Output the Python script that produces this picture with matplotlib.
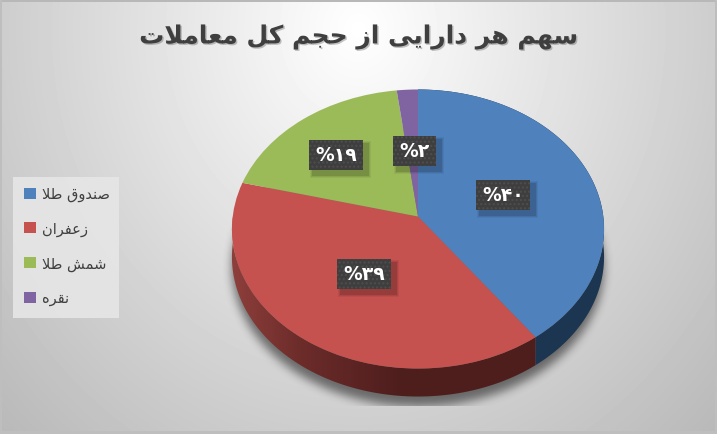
#!/usr/bin/env python
import numpy as np
import matplotlib as mpl
mpl.use('Agg')
import matplotlib.pyplot as plt
import matplotlib.patheffects as pe
from matplotlib.patches import Patch, Polygon, Rectangle
from matplotlib.transforms import Transform

# data
title = 'سهم هر دارایی از حجم کل معاملات'
categories = ['صندوق طلا', 'زعفران', 'شمش طلا', 'نقره']
shares = [40, 39, 19, 2]
share_labels = ['۴۰', '۳۹', '۱۹', '۲']
colors = ['#4f81bd', '#c5524f', '#9bbb59', '#8064a2']

W, H = 717, 435
CX, CY = 418, 217.5    # pie apex in pixels
A, B, K = 185.3, 138.4, 0.0896   # tilt of the disc
DEPTH = 28

# matplotlib does no arabic shaping, so pick presentation forms by hand
FORMS = {
    'ا': 'ﺍﺎ', 'د': 'ﺩﺪ', 'ر': 'ﺭﺮ', 'ز': 'ﺯﺰ', 'و': 'ﻭﻮ',
    'ت': 'ﺕﺖﺗﺘ', 'ج': 'ﺝﺞﺟﺠ', 'ح': 'ﺡﺢﺣﺤ', 'س': 'ﺱﺲﺳﺴ', 'ش': 'ﺵﺶﺷﺸ',
    'ص': 'ﺹﺺﺻﺼ', 'ط': 'ﻁﻂﻃﻄ', 'ع': 'ﻉﻊﻋﻌ', 'ف': 'ﻑﻒﻓﻔ', 'ق': 'ﻕﻖﻗﻘ',
    'ک': 'ﮎﮏﮐﮑ', 'ل': 'ﻝﻞﻟﻠ', 'م': 'ﻡﻢﻣﻤ', 'ن': 'ﻥﻦﻧﻨ', 'ه': 'ﻩﻪﻫﻬ',
    'ی': 'ﯼﯽﯾﯿ',
}

def shape(text):
    out = []
    for word in text.split(' '):
        s = ''
        i = 0
        joined = False
        while i < len(word):
            c = word[i]
            if c == 'ل' and word[i + 1:i + 2] == 'ا':
                s += 'ﻼ' if joined else 'ﻻ'
                joined = False
                i += 2
                continue
            f = FORMS[c]
            nxt = i + 1 < len(word)
            if len(f) == 2:
                s += f[1] if joined else f[0]
                joined = False
            else:
                s += f[(3 if nxt else 1) if joined else (2 if nxt else 0)]
                joined = nxt
            i += 1
        out.append(s[::-1])
    return ' '.join(out[::-1])


class Tilt(Transform):
    input_dims = 2
    output_dims = 2
    is_separable = False
    has_inverse = False

    def __init__(self, dy=0):
        super().__init__()
        self.dy = dy

    def transform_non_affine(self, values):
        values = np.asarray(values, dtype=float)
        u, v = values[:, 0], values[:, 1]
        w = 1 + K * v
        return np.column_stack([CX + A * u / w, CY - B * v / w + self.dy])


def arc(a0, a1, dy=0):
    # a0, a1 in percent of the circle, clockwise from the top
    t = np.radians(np.linspace(a0, a1, 150) * 3.6)
    return Tilt(dy).transform_non_affine(np.column_stack([np.sin(t), np.cos(t)]))


def blur(img, r, n=3):
    kern = np.ones(2 * r + 1) / (2 * r + 1)
    for _ in range(n):
        img = np.apply_along_axis(lambda m: np.convolve(m, kern, mode='same'), 0, img)
        img = np.apply_along_axis(lambda m: np.convolve(m, kern, mode='same'), 1, img)
    return img


fig = plt.figure(figsize=(W / 100, H / 100), dpi=100)
ax = fig.add_axes([0, 0, 1, 1])

# background
yy, xx = np.mgrid[0:H, 0:W]
d = np.hypot((xx - 358) / 358., (yy - 30) / 405.)
bg = 255 - 50 * np.clip(d, 0, 1.5)
bg[:3, :] = 184
bg[-3:, :] = 190
bg[:, :2] = 190
bg[:, -2:] = 190
ax.imshow(bg, cmap='gray', vmin=0, vmax=255, extent=(0, W, H, 0), aspect='auto', zorder=0)

# shadow under the disc
Y = CY + DEPTH + 10 - (yy + .5)
X = xx + .5 - CX
v = Y / (B - K * Y)
u = X * (1 + K * v) / A
mask = ((u ** 2 + v ** 2) < 1.0).astype(float)
shadow = blur(mask, 4) * .5
shadow[407:, :] = 0
shadow[:, 616:] = 0
rgba = np.zeros((H, W, 4))
rgba[..., 3] = shadow
ax.imshow(rgba, extent=(0, W, H, 0), aspect='auto', zorder=1)

# side wall, red part fades to dark towards the front
end_blue = shares[0]
side_blue = np.vstack([arc(0, end_blue), arc(0, end_blue, DEPTH)[::-1]])
ax.add_patch(Polygon(side_blue, closed=True, fc='#1c3550', ec='none', zorder=2))

side_red = np.vstack([arc(end_blue, 75), arc(end_blue, 75, DEPTH)[::-1]])
clip = Polygon(side_red, closed=True, fc='none', ec='none', transform=ax.transData)
ax.add_patch(clip)
xs = np.arange(W)
grad = np.zeros((1, W, 3))
grad[0, :, 0] = np.interp(xs, [235, 300, 400], [140, 108, 78])
grad[0, :, 1] = np.interp(xs, [235, 300, 400], [62, 44, 30])
grad[0, :, 2] = np.interp(xs, [235, 300, 400], [58, 42, 29])
im = ax.imshow(grad / 255., extent=(0, W, H, 0), aspect='auto', zorder=2)
im.set_clip_path(clip)

# top of the disc
wedges, _ = ax.pie(shares, colors=colors, startangle=90, counterclock=False,
                   wedgeprops=dict(linewidth=0))
for w in wedges:
    w.set_transform(Tilt() + ax.transData)
    w.set_zorder(3)

ax.set_aspect('auto')
ax.set_xlim(0, W)
ax.set_ylim(H, 0)
ax.axis('off')

# value boxes
label_pos = [(503, 196), (364, 275), (336, 156), (414.5, 152)]
for lab, (x, y), n in zip(share_labels, label_pos, shares):
    half = 27 if n > 9 else 21.5
    for g, a in [(7, .05), (5, .08), (3, .12)]:
        ax.add_patch(Rectangle((x - half + 4 - g / 2, y - 15 + 4 - g / 2), 2 * half + g, 30 + g,
                               fc='k', ec='none', alpha=a, zorder=4))
    ax.add_patch(Rectangle((x - half, y - 15), 2 * half, 30, fc='#3e3e3e', ec='#4e4e4e',
                           lw=0, hatch='....', zorder=5))
    ax.text(x, y, '%' + lab, color='w', fontsize=13.5, fontweight='bold', ha='center',
            va='center', zorder=6, family='DejaVu Sans')

# legend box
ax.add_patch(Rectangle((13, 178), 106, 141, fc='#e6e6e6', ec='none', alpha=.9, zorder=1.5))
handles = [Patch(fc=c, ec='none') for c in colors]
leg = ax.legend(handles, [shape(c) for c in categories], loc='upper left',
                bbox_to_anchor=(14, 177), bbox_transform=ax.transData, frameon=False,
                fontsize=10.5, labelcolor='#404040', labelspacing=1.33, handlelength=.8,
                handleheight=.8, handletextpad=.4, borderpad=.7, borderaxespad=0)
leg.set_zorder(6)

ax.text(359, 38, shape(title), fontsize=18, fontweight='bold', color='#3f3f3f',
        ha='center', va='center', family='DejaVu Sans',
        path_effects=[pe.withSimplePatchShadow(offset=(1, -1), alpha=.25)])

fig.savefig('out.png', dpi=100)
